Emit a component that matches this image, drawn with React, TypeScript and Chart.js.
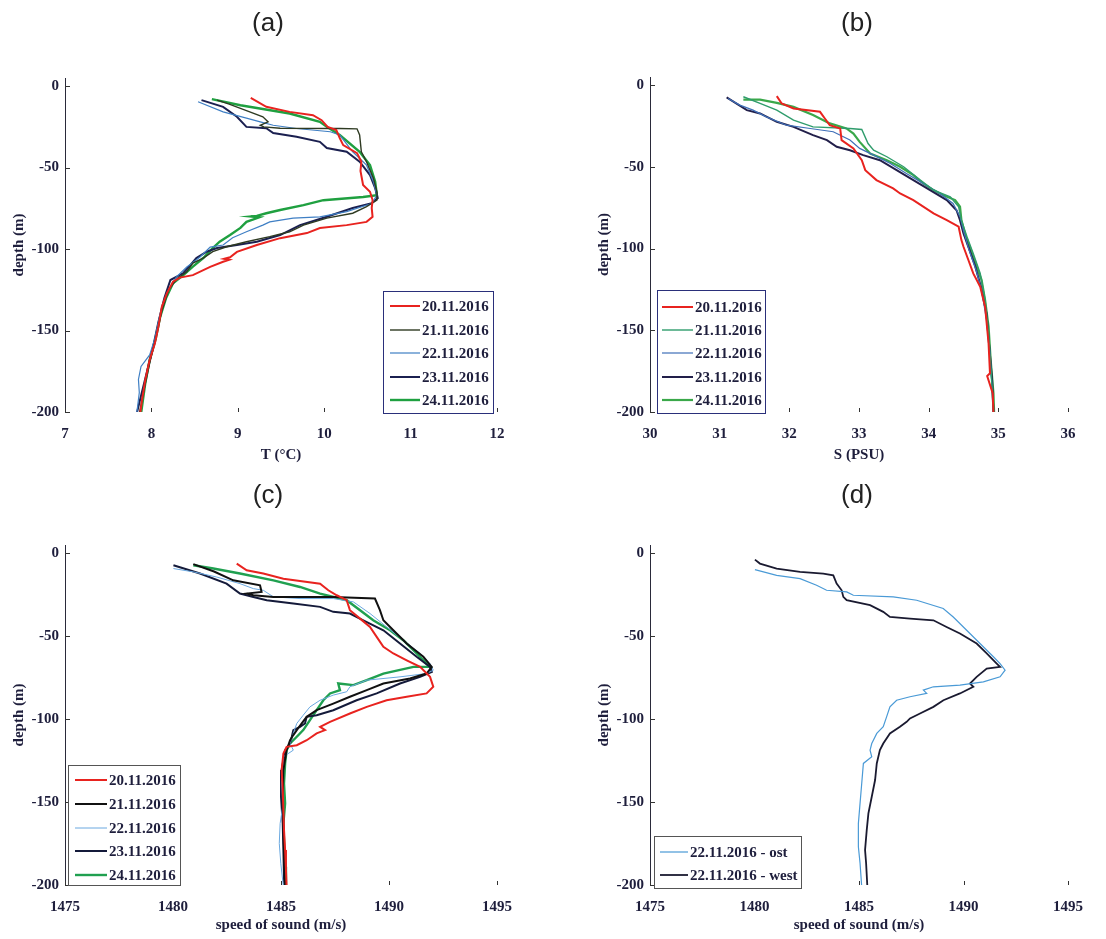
import React, { useEffect, useRef } from 'react';
import { Chart, registerables } from 'chart.js';

Chart.register(...registerables);

type Pt = [number, number];

// ---------- tick labels / categories ----------
const depthTicks = [0, -50, -100, -150, -200];
const tempTicks = [7, 8, 9, 10, 11, 12];
const salTicks = [30, 31, 32, 33, 34, 35, 36];
const sosTicks = [1475, 1480, 1485, 1490, 1495];
const dateLabels = ['20.11.2016', '21.11.2016', '22.11.2016', '23.11.2016', '24.11.2016'];
const eastWestLabels = ['22.11.2016 - ost', '22.11.2016 - west'];

// ---------- (a) temperature [T, depth] ----------
const tA20: Pt[] = [[9.15,-7.2],[9.33,-12.7],[9.6,-15.8],[9.87,-17.8],[9.97,-20.9],[10.04,-25],[10.14,-27],[10.18,-31.9],[10.22,-36.2],[10.38,-41.1],[10.43,-46.4],[10.42,-52],[10.45,-60.7],[10.53,-64.8],[10.56,-69.9],[10.55,-74.8],[10.56,-80.2],[10.49,-83.3],[10.26,-85.3],[9.95,-87.1],[9.8,-90.2],[9.49,-93.3],[9.22,-97.5],[8.99,-101.7],[8.91,-105],[8.84,-106],[8.9,-106.6],[8.83,-107.8],[8.68,-110.9],[8.48,-116],[8.33,-117.5],[8.25,-120],[8.18,-127],[8.12,-135.6],[8.08,-148],[8.04,-158],[7.98,-168],[7.93,-180],[7.89,-193],[7.87,-201]];
const tA21: Pt[] = [[8.76,-8.6],[8.9,-11],[9.1,-15],[9.29,-18.8],[9.35,-21.9],[9.26,-24],[9.3,-25],[9.49,-25.8],[10.18,-26],[10.38,-26.2],[10.41,-30],[10.43,-40.3],[10.49,-46.4],[10.57,-56.6],[10.61,-64.8],[10.61,-70],[10.49,-74],[10.33,-78],[10.03,-81],[9.76,-85.3],[9.6,-89.4],[9.37,-92.4],[9.1,-95.5],[8.87,-98.6],[8.71,-101.6],[8.6,-105.5],[8.48,-108.6],[8.41,-113.9],[8.3,-118],[8.2,-125],[8.12,-138],[8.05,-155],[7.98,-170],[7.92,-185],[7.86,-201]];
const tA22: Pt[] = [[8.54,-9.6],[8.83,-15.8],[9.1,-19.6],[9.26,-21.9],[9.41,-24],[9.68,-26],[10.07,-28],[10.18,-30],[10.33,-40.3],[10.49,-48.5],[10.57,-58.7],[10.61,-66.9],[10.55,-72],[10.26,-77],[9.95,-80.2],[9.64,-81],[9.37,-83.3],[9.29,-85.3],[9.1,-89.4],[8.94,-93],[8.83,-97.5],[8.68,-98.8],[8.56,-105],[8.41,-111],[8.29,-117],[8.18,-127],[8.1,-140],[8.04,-155],[7.98,-165],[7.88,-172],[7.85,-180],[7.86,-188],[7.83,-201]];
const tA23: Pt[] = [[8.58,-8.6],[8.83,-12.7],[8.99,-18.8],[9.1,-25],[9.33,-25.8],[9.41,-28.8],[9.68,-31.1],[9.95,-34.2],[10.03,-38],[10.26,-40.3],[10.41,-46.4],[10.53,-54.6],[10.59,-62.6],[10.62,-68.7],[10.55,-71.8],[10.33,-74.8],[10.03,-80.2],[9.72,-85.3],[9.49,-91.4],[9.22,-95.5],[8.99,-97.5],[8.76,-99.4],[8.64,-101.6],[8.52,-105.5],[8.45,-109.8],[8.37,-114.7],[8.22,-119],[8.15,-130],[8.08,-145],[8.02,-160],[7.95,-175],[7.88,-190],[7.83,-201]];
const tA24: Pt[] = [[8.7,-8],[9.03,-11.7],[9.6,-16.8],[9.95,-21.9],[10.03,-25],[10.18,-30],[10.41,-40.3],[10.53,-48.5],[10.59,-58.7],[10.61,-66.9],[10.45,-68],[9.99,-70],[9.76,-73],[9.49,-76],[9.33,-78],[9.22,-79.6],[9.15,-80],[9.25,-80.5],[9.1,-83.3],[9.03,-87],[8.91,-91.4],[8.79,-95.5],[8.71,-99.4],[8.6,-105.5],[8.48,-110.8],[8.37,-116],[8.25,-121],[8.17,-130],[8.1,-142],[8.05,-155],[7.98,-168],[7.93,-182],[7.88,-201]];

// ---------- (b) salinity [S, depth] ----------
const sB20: Pt[] = [[31.82,-6.7],[31.89,-11.2],[32.06,-14.3],[32.44,-16.3],[32.51,-20.4],[32.58,-24.5],[32.73,-26.5],[32.75,-33.6],[32.92,-38.7],[33.04,-45.9],[33.09,-52],[33.25,-58.1],[33.49,-63.2],[33.59,-66.3],[33.78,-70.3],[34.07,-78.5],[34.26,-82.6],[34.43,-86.6],[34.47,-94.8],[34.5,-98.9],[34.57,-107],[34.64,-115.2],[34.74,-123.3],[34.81,-135.6],[34.86,-158],[34.88,-176.3],[34.84,-178],[34.92,-188.6],[34.93,-201]];
const sB21: Pt[] = [[31.34,-7.1],[31.58,-11.2],[31.82,-15.3],[32.06,-21.4],[32.34,-25.5],[32.87,-26.5],[33.04,-27.1],[33.13,-35.7],[33.21,-39.8],[33.4,-43.8],[33.64,-49.9],[33.88,-58.1],[34.07,-64.2],[34.31,-68.3],[34.43,-74.4],[34.47,-82.6],[34.55,-92.8],[34.64,-103],[34.74,-115.2],[34.81,-131.5],[34.86,-151.9],[34.9,-178.4],[34.93,-201]];
const sB22: Pt[] = [[31.12,-8.2],[31.29,-12.2],[31.48,-15.3],[31.67,-19.4],[31.96,-24.5],[32.3,-26.5],[32.63,-28.5],[32.87,-33.6],[33.01,-38.7],[33.21,-42.8],[33.45,-47.9],[33.68,-54],[33.92,-60.1],[34.16,-66.3],[34.35,-72.4],[34.45,-80.5],[34.51,-90.7],[34.58,-100.9],[34.68,-113.1],[34.76,-125.4],[34.83,-143.7],[34.88,-164.1],[34.91,-184.5],[34.93,-201]];
const sB23: Pt[] = [[31.1,-7.5],[31.39,-15.3],[31.58,-17.3],[31.82,-22.4],[32.06,-25.5],[32.34,-30.6],[32.54,-33.6],[32.68,-37.7],[32.87,-39.8],[33.06,-42.8],[33.3,-45.9],[33.54,-52],[33.78,-58.1],[34.02,-64.2],[34.26,-70.3],[34.4,-76.5],[34.45,-82.6],[34.5,-90.7],[34.57,-98.9],[34.67,-111.1],[34.75,-123.3],[34.83,-139.7],[34.87,-160],[34.91,-180.4],[34.93,-201]];
const sB24: Pt[] = [[31.34,-8.8],[31.58,-8.8],[31.82,-10.8],[32.06,-13.3],[32.34,-18.3],[32.58,-23.4],[32.82,-26.5],[32.92,-29.6],[33.01,-34.7],[33.16,-41.8],[33.4,-45.9],[33.59,-49.9],[33.78,-55],[33.92,-60.1],[34.07,-64.2],[34.21,-67.3],[34.38,-70.3],[34.45,-74.4],[34.47,-82.6],[34.52,-90.7],[34.59,-98.9],[34.69,-111.1],[34.76,-119.3],[34.81,-131.5],[34.86,-147.8],[34.89,-168.2],[34.93,-188.6],[34.94,-201]];

// ---------- (c) speed of sound [c, depth] ----------
const vC20: Pt[] = [[1482.95,-6.2],[1483.41,-10.2],[1484.18,-12.2],[1485.11,-15.3],[1486.81,-18.3],[1487.19,-22.3],[1487.58,-25.3],[1488.04,-28.3],[1488.19,-34.3],[1488.66,-39.4],[1489.12,-44.4],[1489.43,-50.4],[1489.74,-56.4],[1490.2,-60.4],[1490.82,-64.5],[1491.44,-68.5],[1491.9,-74.5],[1492.05,-80.5],[1491.74,-84.5],[1490.82,-86.5],[1489.89,-88.6],[1488.97,-92.6],[1488.19,-96.6],[1487.27,-101.6],[1486.81,-104.6],[1487.04,-106.6],[1486.65,-108.6],[1486.19,-112.7],[1485.73,-115.7],[1485.26,-116.7],[1485.11,-120.7],[1485.03,-130.7],[1485.08,-142.8],[1485.11,-154.8],[1485.14,-166.9],[1485.19,-178.9],[1485.23,-191],[1485.26,-201]];
const vC21: Pt[] = [[1480.94,-6.5],[1481.9,-11],[1482.79,-16.3],[1484.03,-19.3],[1484.1,-23.3],[1483.41,-24.3],[1483.72,-25.3],[1484.65,-26.3],[1487.42,-26.3],[1489.35,-27.3],[1489.58,-34.3],[1489.74,-40.4],[1490.2,-46.4],[1490.82,-54.4],[1491.59,-62.4],[1491.98,-68.5],[1491.74,-72.5],[1490.97,-75.5],[1489.74,-78.5],[1488.97,-82.5],[1488.19,-86.5],[1487.42,-90.6],[1486.65,-94.6],[1486.19,-98.6],[1485.96,-102.6],[1485.73,-106.6],[1485.57,-109.6],[1485.42,-112.7],[1485.26,-118.7],[1485.11,-130.7],[1485.08,-146.8],[1485.11,-162.9],[1485.14,-178.9],[1485.19,-201]];
const vC22: Pt[] = [[1480.02,-9.2],[1480.94,-11.2],[1482.02,-14.3],[1483.1,-18.3],[1483.72,-21.3],[1484.18,-22.3],[1484.65,-26.3],[1485.88,-27.3],[1487.42,-27.3],[1488.35,-29.3],[1489.12,-36.3],[1489.89,-44.4],[1490.66,-52.4],[1491.44,-60.4],[1491.9,-66.5],[1492.05,-70.5],[1491.74,-72.5],[1490.51,-74.5],[1488.97,-76.5],[1488.19,-80.5],[1488.04,-83.5],[1487.42,-85.5],[1486.81,-88.6],[1486.34,-92.6],[1486.03,-97.6],[1485.73,-102.6],[1485.57,-108.6],[1485.42,-114.7],[1485.57,-118.7],[1485.11,-122.7],[1485.03,-136.8],[1485.08,-152.8],[1484.96,-162.9],[1484.92,-174.9],[1484.99,-186.9],[1485.11,-201]];
const vC23: Pt[] = [[1480.02,-7.2],[1481.25,-12.2],[1482.48,-18.3],[1483.1,-24.3],[1483.72,-26.3],[1484.34,-28.3],[1485.57,-30.3],[1486.81,-32.3],[1487.42,-35.3],[1488.19,-36.3],[1488.81,-40.4],[1489.74,-46.4],[1490.51,-54.4],[1491.28,-62.4],[1491.9,-68.5],[1491.98,-71.5],[1491.44,-74.5],[1490.51,-78.5],[1489.43,-84.5],[1488.5,-88.6],[1487.42,-94.6],[1486.65,-97.6],[1486.19,-98.6],[1486.11,-102.6],[1485.88,-104.6],[1485.57,-106.6],[1485.5,-110.6],[1485.42,-114.7],[1485.19,-118.7],[1485.03,-130.7],[1485.0,-146.8],[1485.08,-162.9],[1485.11,-178.9],[1485.15,-201]];
const vC24: Pt[] = [[1480.94,-7.2],[1481.87,-9.2],[1483.1,-12.2],[1484.65,-16.3],[1485.88,-20.3],[1486.81,-24.3],[1488.04,-28.3],[1488.66,-34.3],[1489.27,-40.4],[1490.05,-46.4],[1490.66,-52.4],[1491.28,-60.4],[1491.74,-66.5],[1491.9,-68.5],[1491.13,-68.5],[1489.74,-72.5],[1488.97,-76.5],[1488.35,-79.5],[1487.65,-78.5],[1487.73,-82.5],[1487.27,-84.5],[1486.96,-88.6],[1486.65,-94.6],[1486.34,-100.6],[1486.03,-106.6],[1485.73,-110.6],[1485.42,-114.7],[1485.26,-118.7],[1485.19,-126.7],[1485.14,-138.8],[1485.19,-150.8],[1485.11,-162.9],[1485.15,-176.9],[1485.2,-189],[1485.23,-201]];

// ---------- (d) speed of sound east / west [c, depth] ----------
const vDost: Pt[] = [[1480.02,-9.8],[1481.06,-13.3],[1482.18,-15.3],[1482.97,-19.3],[1483.45,-22.3],[1484.41,-23.3],[1484.73,-25.3],[1486.64,-26.3],[1487.76,-28.3],[1489.03,-33.3],[1489.51,-38.4],[1490.15,-46.4],[1490.79,-54.4],[1491.43,-62.4],[1491.75,-66.5],[1491.99,-70.5],[1491.75,-74.5],[1490.95,-77.5],[1489.83,-79.5],[1488.56,-80.5],[1488.08,-82.5],[1488.24,-84.5],[1487.44,-86.5],[1486.8,-88.6],[1486.48,-92.6],[1486.32,-98.6],[1486.16,-104.6],[1485.85,-108.6],[1485.61,-114.7],[1485.53,-118.7],[1485.61,-122.7],[1485.21,-126.7],[1485.13,-138.8],[1485.05,-150.8],[1484.97,-162.9],[1484.97,-176.9],[1485.05,-186.9],[1485.13,-201]];
const vDwest: Pt[] = [[1480.02,-3.8],[1480.26,-6.2],[1481.06,-9.2],[1482.18,-11.2],[1483.29,-12.2],[1483.77,-13.3],[1483.93,-18.3],[1484.17,-22.3],[1484.25,-26.3],[1484.41,-28.3],[1485.53,-31.3],[1486.16,-35.3],[1486.48,-38.4],[1487.44,-39.4],[1488.56,-40.4],[1489.19,-44.4],[1489.83,-48.4],[1490.63,-54.4],[1491.11,-60.4],[1491.59,-66.5],[1491.75,-68.5],[1491.11,-69.5],[1490.63,-74.5],[1490.31,-78.5],[1490.47,-80.5],[1489.83,-84.5],[1489.04,-88.6],[1488.56,-92.6],[1487.92,-96.6],[1487.44,-99.6],[1487.28,-101.6],[1486.96,-104.6],[1486.48,-108.6],[1486.16,-114.7],[1486.0,-118.7],[1485.85,-126.7],[1485.77,-136.7],[1485.61,-146.8],[1485.45,-156.8],[1485.37,-166.9],[1485.29,-178.9],[1485.34,-186.9],[1485.4,-201]];

// ---------- styling ----------
const SERIF = '"Liberation Serif", "DejaVu Serif", serif';
const INK = '#1e1e3c';

type Series = { label: string; data: Pt[]; color: string; width: number };
type LegendCfg = { box: [number, number, number, number]; rows: number[]; line: [number, number]; textX: number; border: string };
type PanelCfg = {
  left: number; top: number; width: number; height: number;
  padTop: number; padRight: number; xH: number; yW: number;
  xMin: number; xMax: number; xTicks: number[]; xTitle: string;
  series: Series[]; legend: LegendCfg;
};

const panels: PanelCfg[] = [
  {
    left: 0, top: 0, width: 553, height: 469, padTop: 78, padRight: 56, xH: 57, yW: 65,
    xMin: 7, xMax: 12, xTicks: tempTicks, xTitle: 'T (°C)',
    series: [
      { label: dateLabels[0], data: tA20, color: '#e8231f', width: 2 },
      { label: dateLabels[1], data: tA21, color: '#2e3a22', width: 1.4 },
      { label: dateLabels[2], data: tA22, color: '#3f7fc4', width: 1.2 },
      { label: dateLabels[3], data: tA23, color: '#1b2050', width: 2 },
      { label: dateLabels[4], data: tA24, color: '#1fa040', width: 2.4 },
    ],
    legend: { box: [383, 291, 110, 122], rows: [306, 330, 353, 377, 400], line: [390, 420], textX: 422, border: '#2a2f7a' },
  },
  {
    left: 585, top: 0, width: 521, height: 469, padTop: 77, padRight: 38, xH: 57, yW: 65,
    xMin: 30, xMax: 36, xTicks: salTicks, xTitle: 'S (PSU)',
    series: [
      { label: dateLabels[0], data: sB20, color: '#e8231f', width: 2 },
      { label: dateLabels[1], data: sB21, color: '#2f9c6c', width: 1.4 },
      { label: dateLabels[2], data: sB22, color: '#3f6fb8', width: 1.2 },
      { label: dateLabels[3], data: sB23, color: '#221f4a', width: 2 },
      { label: dateLabels[4], data: sB24, color: '#3aa84a', width: 2.2 },
    ],
    legend: { box: [72, 290, 108, 123], rows: [307, 330, 353, 377, 400], line: [77, 108], textX: 110, border: '#2a2f7a' },
  },
  {
    left: 0, top: 469, width: 553, height: 470, padTop: 76, padRight: 56, xH: 54, yW: 65,
    xMin: 1475, xMax: 1495, xTicks: sosTicks, xTitle: 'speed of sound (m/s)',
    series: [
      { label: dateLabels[0], data: vC20, color: '#e8231f', width: 2 },
      { label: dateLabels[1], data: vC21, color: '#111111', width: 2 },
      { label: dateLabels[2], data: vC22, color: '#6aa8e0', width: 1 },
      { label: dateLabels[3], data: vC23, color: '#141a3a', width: 2 },
      { label: dateLabels[4], data: vC24, color: '#20a050', width: 2.4 },
    ],
    legend: { box: [68, 296, 112, 120], rows: [311, 335, 359, 382, 406], line: [75, 107], textX: 109, border: '#555555' },
  },
  {
    left: 585, top: 469, width: 521, height: 470, padTop: 76, padRight: 38, xH: 54, yW: 65,
    xMin: 1475, xMax: 1495, xTicks: sosTicks, xTitle: 'speed of sound (m/s)',
    series: [
      { label: eastWestLabels[0], data: vDost, color: '#4a9ad6', width: 1.2 },
      { label: eastWestLabels[1], data: vDwest, color: '#1a1a30', width: 1.8 },
    ],
    legend: { box: [69, 367, 147, 52], rows: [383, 406], line: [75, 103], textX: 105, border: '#555555' },
  },
];

const titles = [
  { text: '(a)', x: 268, y: 22 },
  { text: '(b)', x: 857, y: 22 },
  { text: '(c)', x: 268, y: 494 },
  { text: '(d)', x: 857, y: 494 },
];

function Panel({ cfg }: { cfg: PanelCfg }) {
  const ref = useRef<HTMLCanvasElement>(null);
  useEffect(() => {
    const tickFont = { family: SERIF, size: 15, weight: 'bold' as const };
    const innerTicks = {
      id: 'innerTicks',
      afterDatasetsDraw(chart: any) {
        const { ctx, chartArea, scales } = chart;
        ctx.save();
        ctx.strokeStyle = '#333';
        ctx.lineWidth = 1;
        ctx.beginPath();
        scales.y.ticks.forEach((t: any) => {
          const py = Math.round(scales.y.getPixelForValue(t.value)) + 0.5;
          ctx.moveTo(chartArea.left, py);
          ctx.lineTo(chartArea.left + 5, py);
        });
        scales.x.ticks.forEach((t: any) => {
          const px = Math.round(scales.x.getPixelForValue(t.value)) + 0.5;
          ctx.moveTo(px, chartArea.bottom);
          ctx.lineTo(px, chartArea.bottom - 4);
        });
        ctx.stroke();
        ctx.restore();
      },
    };
    const boxLegend = {
      id: 'boxLegend',
      afterDraw(chart: any) {
        const lg = cfg.legend;
        const { ctx } = chart;
        ctx.save();
        const [bx, by, bw, bh] = lg.box;
        ctx.fillStyle = '#ffffff';
        ctx.fillRect(bx, by, bw, bh);
        ctx.strokeStyle = lg.border;
        ctx.lineWidth = 1;
        ctx.strokeRect(bx + 0.5, by + 0.5, bw, bh);
        ctx.font = `bold 15px ${SERIF}`;
        ctx.textBaseline = 'middle';
        ctx.textAlign = 'left';
        chart.data.datasets.forEach((ds: any, i: number) => {
          const y = lg.rows[i];
          ctx.strokeStyle = ds.borderColor;
          ctx.lineWidth = Math.max(1, ds.borderWidth);
          ctx.beginPath();
          ctx.moveTo(lg.line[0], y);
          ctx.lineTo(lg.line[1], y);
          ctx.stroke();
          ctx.fillStyle = INK;
          ctx.fillText(ds.label, lg.textX, y + 1);
        });
        ctx.restore();
      },
    };
    const plain = (v: any) => String(v);
    const chart = new Chart(ref.current as HTMLCanvasElement, {
      type: 'scatter',
      data: {
        datasets: cfg.series.map((s) => ({
          label: s.label,
          data: s.data.map(([x, y]) => ({ x, y })),
          borderColor: s.color,
          backgroundColor: s.color,
          borderWidth: s.width,
          showLine: true,
          pointRadius: 0,
          pointHoverRadius: 0,
          tension: 0,
        })),
      },
      options: {
        animation: false,
        responsive: false,
        maintainAspectRatio: false,
        events: [],
        layout: { padding: { left: 0, top: cfg.padTop, right: cfg.padRight, bottom: 0 } },
        plugins: { legend: { display: false }, tooltip: { enabled: false } },
        scales: {
          x: {
            type: 'linear',
            min: cfg.xMin,
            max: cfg.xMax,
            afterBuildTicks: (s: any) => { s.ticks = cfg.xTicks.map((v) => ({ value: v })); },
            afterFit: (s: any) => { s.height = cfg.xH; },
            grid: { display: false, drawTicks: false },
            border: { display: false },
            ticks: { font: tickFont, color: INK, padding: 13, autoSkip: false, maxRotation: 0, callback: plain },
            title: { display: true, text: cfg.xTitle, font: tickFont, color: INK, padding: { top: 0, bottom: 5 } },
          },
          y: {
            type: 'linear',
            min: -200,
            max: 5,
            afterBuildTicks: (s: any) => { s.ticks = depthTicks.map((v) => ({ value: v })); },
            afterFit: (s: any) => { s.width = cfg.yW; },
            grid: { display: false, drawTicks: false },
            border: { display: true, color: '#2a2a3a', width: 1 },
            ticks: { font: tickFont, color: INK, padding: 6, autoSkip: false, callback: plain },
            title: { display: true, text: 'depth (m)', font: tickFont, color: INK, padding: { top: 10, bottom: 0 } },
          },
        },
      },
      plugins: [innerTicks, boxLegend],
    } as any);
    return () => chart.destroy();
  }, [cfg]);
  return (
    <canvas
      ref={ref}
      width={cfg.width}
      height={cfg.height}
      style={{ position: 'absolute', left: cfg.left, top: cfg.top, width: cfg.width, height: cfg.height }}
    />
  );
}

export default function App() {
  return (
    <div style={{ position: 'absolute', left: 0, top: 0, width: 1106, height: 939, background: '#ffffff', overflow: 'hidden' }}>
      {panels.map((p, i) => (
        <Panel key={i} cfg={p} />
      ))}
      {titles.map((t) => (
        <div
          key={t.text}
          style={{
            position: 'absolute', left: t.x, top: t.y, transform: 'translate(-50%, -50%)',
            font: '26px "Liberation Sans", Arial, sans-serif', color: '#222', whiteSpace: 'nowrap',
          }}
        >
          {t.text}
        </div>
      ))}
    </div>
  );
}
